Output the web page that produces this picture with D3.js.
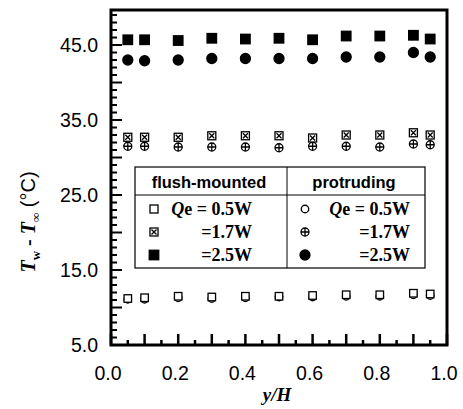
<!DOCTYPE html>
<html>
<head>
<meta charset="utf-8">
<script src="https://cdn.jsdelivr.net/npm/d3@7"></script>
<style>
  body { margin: 0; background: #fff; }
  svg { display: block; }
  .tick-label { font-family: "Liberation Sans", Arial, sans-serif; font-size: 19.5px; }
  .serif { font-family: "Liberation Serif", "Times New Roman", serif; font-weight: bold; }
  .head { font-family: "Liberation Sans", Arial, sans-serif; font-size: 16.5px; font-weight: bold; }
</style>
</head>
<body>
<div id="chart"></div>
<script>
// positions along the wall
var yH = [0.05, 0.1, 0.2, 0.3, 0.4, 0.5, 0.6, 0.7, 0.8, 0.9, 0.95];

// flush-mounted (squares)
var flush05 = [11.2, 11.3, 11.5, 11.4, 11.5, 11.5, 11.6, 11.7, 11.7, 11.9, 11.8];
var flush17 = [32.7, 32.7, 32.7, 32.9, 32.9, 32.9, 32.6, 33.0, 33.0, 33.3, 33.0];
var flush25 = [45.7, 45.7, 45.6, 45.9, 45.8, 45.9, 45.7, 46.2, 46.2, 46.3, 45.8];

// protruding (circles)
var prot05 = [11.1, 11.1, 11.3, 11.2, 11.3, 11.4, 11.4, 11.5, 11.5, 11.7, 11.6];
var prot17 = [31.5, 31.5, 31.4, 31.4, 31.4, 31.3, 31.5, 31.5, 31.4, 31.8, 31.7];
var prot25 = [43.0, 42.9, 43.0, 43.2, 43.2, 43.2, 43.2, 43.4, 43.4, 44.0, 43.4];

var xTickLabels = ["0.0", "0.2", "0.4", "0.6", "0.8", "1.0"];
var yTickLabels = ["5.0", "15.0", "25.0", "35.0", "45.0"];

var width = 463, height = 409;
var margin = {top: 10, right: 16, bottom: 64, left: 111};

var svg = d3.select("#chart").append("svg")
    .attr("width", width)
    .attr("height", height);

var x = d3.scaleLinear().domain([0, 1]).range([margin.left, width - margin.right]);
var y = d3.scaleLinear().domain([5, 49.67]).range([height - margin.bottom, margin.top]);

// y ticks: every 1 unit, longer every 5
var yMinor = d3.range(5, 50, 1);
svg.append("g")
  .selectAll("line")
  .data(yMinor)
  .enter().append("line")
    .attr("x1", x(0))
    .attr("x2", function(d) { return x(0) + (d % 5 === 0 ? 11 : 6); })
    .attr("y1", function(d) { return y(d); })
    .attr("y2", function(d) { return y(d); })
    .attr("stroke", "#000")
    .attr("stroke-width", 2);

// x ticks: every 0.05, taller every 0.1
var xMinor = d3.range(0, 21).map(function(i) { return i * 0.05; });
svg.append("g")
  .selectAll("line")
  .data(xMinor)
  .enter().append("line")
    .attr("x1", function(d) { return x(d); })
    .attr("x2", function(d) { return x(d); })
    .attr("y1", y(5))
    .attr("y2", function(d, i) { return y(5) - (i % 2 === 0 ? 11 : 5); })
    .attr("stroke", "#000")
    .attr("stroke-width", 2.5);

// frame
svg.append("rect")
    .attr("x", x(0))
    .attr("y", y(49.67))
    .attr("width", x(1) - x(0))
    .attr("height", y(5) - y(49.67))
    .attr("fill", "none")
    .attr("stroke", "#000")
    .attr("stroke-width", 3);

// tick labels
svg.append("g")
  .selectAll("text")
  .data(yTickLabels)
  .enter().append("text")
    .attr("class", "tick-label")
    .attr("x", 98)
    .attr("y", function(d) { return y(+d) + 7; })
    .attr("text-anchor", "end")
    .text(function(d) { return d; });

svg.append("g")
  .selectAll("text")
  .data(xTickLabels)
  .enter().append("text")
    .attr("class", "tick-label")
    .attr("x", function(d) { return x(+d) - 3; })
    .attr("y", 380)
    .attr("text-anchor", "middle")
    .text(function(d) { return d; });

// axis titles
svg.append("text")
    .attr("class", "serif")
    .attr("x", x(0.5) - 2)
    .attr("y", 401)
    .attr("text-anchor", "middle")
    .attr("font-size", 19)
    .attr("font-style", "italic")
    .text("y/H");

var yt = svg.append("text")
    .attr("class", "serif")
    .attr("font-size", 20)
    .attr("text-anchor", "middle")
    .attr("transform", "translate(35," + 222 + ") rotate(-90)");
yt.append("tspan").attr("font-style", "italic").text("T");
yt.append("tspan").attr("font-size", 13).attr("dy", 5).text("w");
yt.append("tspan").attr("dy", -5).text(" - ");
yt.append("tspan").attr("font-style", "italic").text("T");
yt.append("tspan").attr("font-size", 13).attr("dy", 5).text("\u221E");
yt.append("tspan").attr("dy", -5).attr("font-family", "Liberation Sans, Arial, sans-serif").attr("font-weight", "normal").text(" (\u00B0C)");

// marker drawing
function drawMarker(g, kind, size) {
  var h = size / 2;
  if (kind === "sqOpen" || kind === "sqCross" || kind === "sqFill") {
    g.append("rect")
      .attr("x", -h).attr("y", -h).attr("width", size).attr("height", size)
      .attr("fill", kind === "sqFill" ? "#000" : "#fff")
      .attr("stroke", "#000").attr("stroke-width", 1.3);
    if (kind === "sqCross") {
      g.append("path")
        .attr("d", "M" + (-h + 1.5) + "," + (-h + 1.5) + "L" + (h - 1.5) + "," + (h - 1.5) +
                   "M" + (h - 1.5) + "," + (-h + 1.5) + "L" + (-h + 1.5) + "," + (h - 1.5))
        .attr("stroke", "#000").attr("stroke-width", 1.3);
    }
  } else {
    g.append("circle")
      .attr("r", h)
      .attr("fill", kind === "ciFill" ? "#000" : "#fff")
      .attr("stroke", "#000").attr("stroke-width", 1.3);
    if (kind === "ciPlus") {
      g.append("path")
        .attr("d", "M" + (-h) + ",0L" + h + ",0M0," + (-h) + "L0," + h)
        .attr("stroke", "#000").attr("stroke-width", 1.3);
    }
  }
}

var series = [
  {vals: prot05, kind: "ciOpen", size: 7.5},
  {vals: flush05, kind: "sqOpen", size: 7.5},
  {vals: prot17, kind: "ciPlus", size: 8},
  {vals: flush17, kind: "sqCross", size: 8},
  {vals: prot25, kind: "ciFill", size: 10},
  {vals: flush25, kind: "sqFill", size: 9.5}
];

series.forEach(function(s) {
  svg.append("g")
    .selectAll("g")
    .data(s.vals)
    .enter().append("g")
      .attr("transform", function(d, i) { return "translate(" + x(yH[i]) + "," + y(d) + ")"; })
      .each(function() { drawMarker(d3.select(this), s.kind, s.size); });
});

// legend
var lg = svg.append("g");
var lx0 = 135, lx1 = 287, lx2 = 425, ly0 = 167, ly1 = 195, ly2 = 268;
lg.append("rect")
    .attr("x", lx0).attr("y", ly0)
    .attr("width", lx2 - lx0).attr("height", ly2 - ly0)
    .attr("fill", "#fff").attr("stroke", "#000").attr("stroke-width", 1.2);
lg.append("line").attr("x1", lx0).attr("x2", lx2).attr("y1", ly1).attr("y2", ly1)
    .attr("stroke", "#000").attr("stroke-width", 1);
lg.append("line").attr("x1", lx1).attr("x2", lx1).attr("y1", ly0).attr("y2", ly2)
    .attr("stroke", "#000").attr("stroke-width", 1);

lg.append("text").attr("class", "head").attr("x", 209).attr("y", 188)
    .attr("text-anchor", "middle").text("flush-mounted");
lg.append("text").attr("class", "head").attr("x", 354).attr("y", 188)
    .attr("text-anchor", "middle").text("protruding");

var rowsY = [209, 232, 255];
var flushKinds = ["sqOpen", "sqCross", "sqFill"];
var protKinds = ["ciOpen", "ciPlus", "ciFill"];
var legLabels = ["0.5W", "1.7W", "2.5W"];

rowsY.forEach(function(ry, i) {
  var g1 = lg.append("g").attr("transform", "translate(154," + ry + ")");
  drawMarker(g1, flushKinds[i], [8, 8, 9.5][i]);
  var g2 = lg.append("g").attr("transform", "translate(305," + ry + ")");
  drawMarker(g2, protKinds[i], [7.5, 8, 10][i]);

  [252, 410].forEach(function(ex) {
    var t = lg.append("text").attr("class", "serif").attr("font-size", 18)
      .attr("x", ex).attr("y", ry + 6).attr("text-anchor", "end");
    if (i === 0) {
      t.append("tspan").attr("font-style", "italic").text("Q");
      t.append("tspan").text("e = " + legLabels[i]);
    } else {
      t.text("=" + legLabels[i]);
    }
  });
});
</script>
</body>
</html>
